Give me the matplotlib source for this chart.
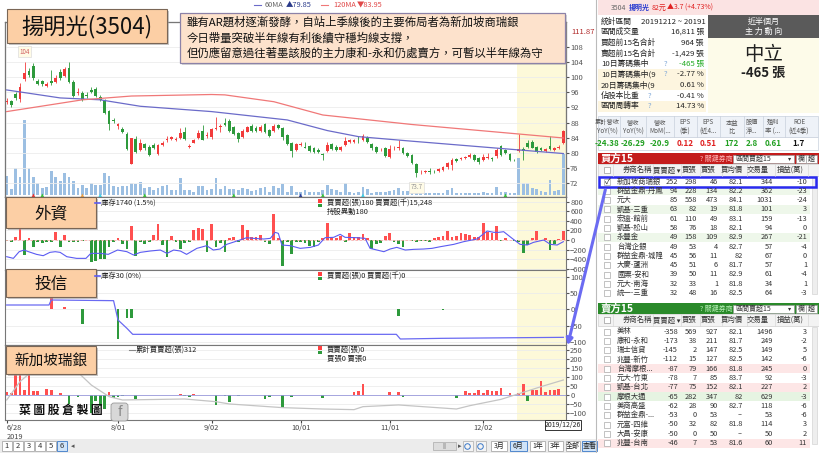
import matplotlib
matplotlib.use('Agg')
import matplotlib.pyplot as plt
from matplotlib.patches import Rectangle, FancyBboxPatch
import numpy as np

plt.rcParams['font.family'] = ['Noto Sans CJK TC', 'DejaVu Sans']

W, H = 820, 453

# ---- daily candles (6/28 ~ 12/26) ----
opens = [93.3, 93.6, 95.6, 94.2, 99.5, 101.6, 103.0, 99.0, 99.0, 97.7, 99.0, 98.7, 101.4, 100.3, 102.3, 98.8,
         95.8, 95.7, 95.2, 96.6, 96.8, 94.7, 94.0, 91.0, 88.8, 87.1, 86.2, 85.0, 77.1, 83.7, 80.8, 82.3,
         81.7, 82.2, 79.7, 82.1, 83.4, 83.8, 83.5, 84.0, 85.6, 81.6, 82.7, 84.0, 85.7, 84.6, 84.1, 86.3,
         86.8, 87.8, 88.5, 86.9, 85.3, 84.2, 85.6, 87.1, 86.6, 85.9, 87.6, 86.0, 85.9, 87.4, 86.5, 84.7,
         82.6, 80.8, 82.1, 81.7, 81.8, 81.2, 80.9, 79.8, 80.5, 82.3, 81.7, 80.8, 82.1, 82.8, 83.0, 82.9,
         83.4, 84.0, 82.4, 81.5, 80.7, 81.2, 78.9, 81.2, 81.2, 81.3, 80.0, 79.5, 77.1, 74.9, 75.0, 75.3,
         75.3, 75.3, 75.6, 76.2, 76.8, 78.4, 78.5, 78.8, 78.9, 79.4, 78.7, 78.2, 78.6, 78.6, 79.1, 81.9,
         80.7, 79.6, 78.2, 80.4, 81.1, 82.7, 82.8, 81.5, 81.2, 80.4, 81.9, 80.7, 81.2, 82.6]
closes = [93.6, 92.6, 94.5, 97.4, 101.0, 100.5, 99.7, 98.2, 98.2, 98.1, 98.3, 99.8, 99.7, 102.0, 98.8, 95.0,
          96.1, 94.0, 95.0, 96.0, 95.0, 94.0, 90.6, 87.6, 88.5, 87.5, 85.6, 81.0, 83.9, 80.2, 82.6, 81.2,
          79.5, 81.4, 82.0, 82.7, 83.6, 84.1, 83.6, 85.3, 83.8, 81.9, 83.4, 85.3, 83.5, 84.8, 86.2, 86.7,
          87.1, 87.3, 85.9, 85.0, 83.7, 85.9, 86.8, 85.9, 85.9, 86.8, 85.6, 84.6, 87.2, 86.6, 84.3, 82.3,
          80.6, 82.3, 82.4, 81.4, 80.4, 80.3, 80.3, 79.5, 82.1, 81.1, 80.8, 81.6, 83.2, 83.3, 83.3, 82.8,
          84.5, 83.0, 81.2, 80.3, 80.9, 79.3, 81.0, 81.4, 81.6, 79.9, 79.2, 77.3, 74.7, 75.1, 75.1, 74.9,
          75.2, 75.8, 76.3, 77.3, 78.2, 77.9, 78.7, 79.0, 79.4, 78.2, 77.5, 78.9, 78.9, 78.4, 80.8, 79.4,
          80.0, 78.2, 78.1, 81.0, 80.5, 81.5, 81.4, 80.3, 80.8, 81.0, 81.0, 81.2, 81.6, 85.8]
highs = [94.5, 94.0, 96.0, 98.5, 104.0, 102.5, 103.8, 99.5, 99.3, 98.6, 101.8, 100.5, 102.0, 102.7, 104.0, 99.2,
         97.0, 96.2, 96.0, 97.5, 97.5, 95.2, 94.3, 91.3, 89.3, 88.0, 86.8, 85.5, 84.0, 84.5, 83.6, 82.6,
         82.0, 82.5, 82.3, 83.2, 84.5, 84.6, 84.2, 86.5, 86.8, 82.3, 83.8, 86.0, 87.3, 85.5, 86.5, 89.6,
         87.5, 89.2, 89.0, 87.2, 85.6, 86.3, 87.2, 87.6, 87.0, 87.3, 88.0, 86.4, 87.5, 87.7, 86.8, 85.0,
         83.0, 82.6, 82.8, 83.0, 82.1, 81.5, 81.2, 80.0, 83.0, 82.6, 82.0, 81.9, 84.2, 83.6, 83.8, 84.5,
         85.0, 84.4, 82.7, 81.8, 81.2, 81.5, 82.0, 81.8, 83.4, 81.6, 80.3, 79.8, 77.4, 75.6, 75.5, 76.0,
         75.6, 76.1, 76.6, 77.7, 78.6, 78.7, 79.0, 79.3, 79.9, 79.7, 79.0, 79.6, 79.9, 78.9, 81.2, 82.2,
         81.0, 79.9, 78.5, 85.0, 81.5, 83.3, 83.4, 81.8, 81.5, 81.4, 84.5, 81.5, 82.0, 86.0]
lows = [92.8, 92.2, 94.0, 93.5, 99.0, 100.0, 99.3, 97.8, 97.6, 97.5, 97.8, 98.5, 99.3, 100.0, 98.5, 94.8,
        95.3, 93.8, 94.5, 95.7, 94.8, 93.7, 90.3, 86.0, 88.0, 86.2, 85.3, 80.8, 77.0, 80.0, 80.5, 80.8,
        79.2, 81.0, 79.4, 81.8, 83.0, 83.5, 83.2, 83.8, 83.5, 81.2, 82.5, 83.8, 83.3, 84.0, 83.8, 86.0,
        85.5, 87.0, 85.6, 84.7, 82.8, 84.0, 85.4, 85.6, 85.6, 85.6, 85.2, 84.2, 85.5, 86.3, 83.5, 82.0,
        79.0, 80.5, 81.8, 81.2, 80.2, 80.0, 80.0, 78.2, 80.2, 80.8, 80.5, 80.5, 81.9, 82.5, 82.6, 82.5,
        83.2, 82.7, 80.8, 80.0, 80.4, 79.0, 78.6, 80.8, 80.9, 79.6, 79.0, 77.0, 73.7, 74.5, 74.6, 74.5,
        74.8, 75.0, 75.3, 75.8, 75.6, 77.6, 78.2, 78.5, 78.6, 78.0, 77.2, 77.9, 78.3, 78.0, 78.8, 79.1,
        79.7, 78.0, 77.8, 80.2, 78.2, 81.2, 81.2, 80.0, 80.5, 80.2, 80.8, 80.4, 81.0, 82.4]
volume = [2200, 700, 3100, 2100, 8600, 3100, 2100, 1400, 800, 900, 2800, 2100, 1600, 2500, 2100, 1600,
          800, 1150, 800, 1400, 1150, 1150, 2500, 2200, 1050, 900, 1050, 1050, 1400, 1250, 1500, 800,
          900, 600, 800, 1050, 1150, 600, 600, 1950, 600, 600, 350, 1050, 1050, 600, 700, 1950,
          700, 1050, 700, 700, 600, 800, 700, 450, 600, 800, 900, 350, 1050, 800, 1250, 350,
          1050, 350, 350, 600, 350, 350, 350, 600, 1150, 700, 600, 350, 1400, 350, 250, 350,
          900, 700, 250, 350, 350, 350, 450, 600, 800, 450, 450, 350, 800, 350, 250, 250,
          250, 250, 250, 600, 800, 250, 250, 250, 250, 250, 250, 350, 250, 250, 900, 350,
          350, 250, 250, 4250, 1400, 1400, 800, 700, 450, 350, 1700, 450, 600, 4700]

# moving averages read at a few points (day index, price)
ma60_day = [0, 12, 21, 30, 46, 63, 72, 79, 91, 115, 125]
ma60_val = [96.6, 94.5, 94.0, 92.3, 90.9, 88.7, 85.9, 84.3, 83.1, 80.8, 79.85]
ma120_day = [0, 17, 28, 46, 49, 60, 71, 91, 125]
ma120_val = [90.9, 94.0, 95.0, 95.4, 95.3, 93.5, 90.0, 87.5, 83.95]

# signal triangles under the volume bars
sig_day = [6, 8, 17, 21, 31, 51, 66, 71, 80, 112]
sig_color = ['#e83030', '#36c236', '#f0a040', '#40d0e8', '#36c236', '#36c236', '#2a3f9a', '#36c236',
             '#40d0e8', '#36c236']

# ---- foreign investors (外資) net buy, 張 ----
foreign_net = [-20, -35, 70, 320, -320, 35, -140, -35, -70, -35, -50, 160, -140, 110, -50, -35,
               -35, -15, 0, -465, -430, -390, -400, -140, -35, 35, -90, -180, 300, -335, -35, -90,
               -35, 110, 335, -110, -360, 90, -50, -180, -70, -50, 215, 250, 235, -250, 335, -140,
               -70, -250, 35, 70, -35, 310, 215, 70, 70, 110, -35, -90, 535, 35, -535, -35,
               -285, -35, -35, -70, -120, -140, -35, 35, 360, 35, 35, 90, -35, 145, 55, 70,
               120, 35, -180, -90, -70, 90, 145, -35, -90, -140, 0, -15, -35, -15, -15, -35,
               35, 55, 90, 190, 55, 90, 145, 120, 110, 70, 70, 360, 160, 145, 290, -15,
               35, 0, -15, -35, -265, -110, 35, 180, 0, 50, -215, -90, 20, 180]
foreign_hold_day = [0, 1.5, 2.8, 3.9, 4.9, 6.7, 8.2, 9.7, 10.9, 12, 13.5, 15.7, 17.8, 18.9, 21, 22.8,
                    24.9, 27, 28.5, 30, 32.2, 34.5, 36, 37.5, 39, 40.4, 42.7, 44.9, 46.4, 47.9, 49.4,
                    51.7, 53.9, 55.4, 57.7, 59.2, 60.3, 61, 61.8, 63.7, 65.9, 68.2, 70, 71.5, 73.4,
                    74.9, 76, 78.6, 80.5, 81.6, 84.7, 86.1, 87.6, 89.5, 91.4, 93.6, 95.5, 97.4, 100.4,
                    102.6, 105.6, 107.9, 109.4, 110.5, 111.6, 113.5, 115.3, 116.9, 118.3, 120.6, 122.1,
                    123.6, 125]
foreign_hold = [840, 740, 1140, 1240, 1140, 980, 900, 1100, 1140, 1100, 840, 740, 740, 1040, 1040, 980,
                1240, 1140, 940, 1100, 1180, 1240, 1040, 1240, 1180, 980, 1340, 1500, 1240, 1300, 1580,
                1780, 1980, 1940, 1900, 1940, 2300, 2240, 1540, 1500, 1340, 1400, 1540, 1980, 2000,
                2180, 2000, 1980, 1940, 1340, 1140, 1300, 1400, 1240, 1280, 1300, 1340, 1440, 1580,
                1740, 1900, 2380, 2300, 2300, 2340, 1940, 1580, 1540, 1700, 1840, 1580, 1540, 1740]

# ---- investment trust (投信) ----
trust_day = [10, 13, 17, 25, 27, 28, 88, 98, 99]
trust_net = [40, 8, -43, -90, -27, -25, -20, -2, 2]
trust_hold_day = [0, 9.5, 10, 24, 25, 27, 28.3, 87.5, 88.4, 97.8, 125]
trust_hold = [321, 321, 366, 360, 186, 111, 57, 57, 15, 21, 30]

# ---- 新加坡瑞銀 daily net, 張 ----
ubs_net = [15, 10, 110, 115, 28, 120, 18, 22, 0, 33, 25, 0, 9, 0, -52, 0,
           -15, 0, 0, -104, -38, -66, -80, 13, -19, -15, -9, 0, 0, -22, 0, 0,
           0, 0, 0, 0, 0, 0, 0, 4, -9, -15, 4, 0, 0, 0, 0, -60,
           0, -9, -42, 0, -9, 0, 0, 0, 0, 0, -22, -13, 0, 0, -72, 0,
           -13, 0, 0, 0, 0, 0, 0, -19, 0, 0, 0, 0, 0, 0, 15, 19,
           57, 0, 0, 0, 0, 0, 13, 0, 15, -13, 0, 0, 0, 0, 0, 0,
           0, 0, 0, 0, 0, -19, 0, 19, 9, 9, 26, 9, 28, 22, 22, 38,
           0, 9, 0, 9, 57, -34, 28, 28, 75, 15, 28, 28, 32, 0]
ubs_cum_day = [0, 3, 6, 10, 13, 16, 19, 23, 26, 40, 47, 50, 62, 71, 78, 80, 88, 101, 104, 111, 116, 120, 125]
ubs_cum = [30, 290, 453, 524, 500, 420, 241, 77, 30, 44, 6, -26, -78, -97, -106, -64, -40, -97, -50, 39,
           138, 218, 312]

tick_days = [0, 25, 46, 66, 86, 107]
tick_labels = ['6/28\n2019', '8/01', '9/02', '10/01', '11/01', '12/02']
band_days = (115, 125)

# ---- right side tables ----
stat_labels = ['統計區間', '區間成交量', '買超前15名合計', '賣超前15名合計', '10日籌碼集中',
               '10日籌碼集中(9', '20日籌碼集中(9', '佔股本比重', '區間周轉率']
stat_values = ['20191212 ~ 20191', '16,811 張', '964 張', '-1,429 張', '-465 張', '-2.77 %', '0.61 %',
               '-0.41 %', '14.73 %']
fin_headers = ['累計營收\nYoY(%)', '營收\nYoY(%)', '營收\nMoM(...', 'EPS\n(季)', 'EPS\n(近4...',
               '本益\n比', '股價\n淨...', '殖利\n率 (...', 'ROE\n(近4季)']
fin_values = ['-24.38', '-26.29', '-20.9', '0.12', '0.51', '172', '2.8', '0.61', '1.7']

buy_names = ['新加坡商瑞銀', '群益金鼎-丹鳳', '元大', '凱基-三重', '宏遠-館前', '凱基-松山', '永豐金',
             '台灣企銀', '群益金鼎-城隍', '大慶-蘆洲', '國票-安和', '元大-南海', '統一-三重']
buy_net = [252, 94, 85, 63, 61, 58, 49, 49, 45, 45, 39, 32, 32]
buy_b = [298, 228, 558, 82, 110, 76, 158, 53, 56, 51, 50, 33, 48]
buy_s = [46, 134, 473, 19, 49, 18, 109, 4, 11, 6, 11, 1, 16]
buy_avg = ['82.1', '82.2', '84.1', '81.8', '83.1', '82.1', '82.9', '82.7', '82', '81.7', '82.9', '81.8', '82.5']
buy_vol = [344, 362, 1031, 101, 159, 94, 267, 57, 67, 57, 61, 34, 64]
buy_pnl = [-10, -23, -24, 3, -13, 0, -21, -4, 0, 1, -4, 1, -3]

sell_names = ['美林', '康和-永和', '瑞士信貸', '兆豐-新竹', '台灣摩根...', '元大-竹東', '凱基-台北',
              '摩根大通', '美商高盛', '群益金鼎-...', '元富-四維', '大昌-安康', '兆豐-台南']
sell_net = [-358, -173, -145, -112, -87, -78, -77, -65, -62, -53, -50, -50, -46]
sell_b = [569, 38, 2, 15, 79, 7, 75, 282, 28, 0, 32, 0, 7]
sell_s = [927, 211, 147, 127, 166, 85, 152, 347, 90, 53, 82, 50, 53]
sell_avg = ['82.1', '81.7', '82.5', '82.5', '81.8', '83.7', '82.1', '82', '82.7', '--', '81.8', '--', '81.6']
sell_vol = [1496, 249, 149, 142, 245, 92, 227, 629, 118, 53, 114, 50, 60]
sell_pnl = [3, -2, 5, -6, 0, -3, 2, -3, -6, -6, 3, 2, 11]

RED = '#f23b3b'
GREEN = '#2e9a3c'
BAND = '#fdf9d9'

fig = plt.figure(figsize=(8.2, 4.53), dpi=100)


def px_axes(x0, y0, x1, y1, **kw):
    return fig.add_axes([x0 / W, 1 - y1 / H, (x1 - x0) / W, (y1 - y0) / H], **kw)


def style_panel(ax, ticks):
    ax.set_xlim(-0.38, 125.6)
    ax.yaxis.tick_right()
    ax.set_yticks(ticks)
    ax.tick_params(axis='y', labelsize=5.5, colors='#555555', length=2, pad=1)
    ax.tick_params(axis='x', length=0, labelbottom=False)
    ax.grid(axis='y', color='#ececec', lw=0.6)
    ax.set_axisbelow(True)
    for s in ax.spines.values():
        s.set_color('#777777')
        s.set_linewidth(0.8)


def twin(ax, lo, hi):
    t = ax.twinx()
    t.set_ylim(lo, hi)
    t.set_axis_off()
    ax.yaxis.tick_right()
    return t


days = np.arange(len(closes))
o = np.array(opens)
c = np.array(closes)
cc = np.where(c >= o, RED, GREEN)

# price panel: volume underneath
axv = px_axes(5, 22, 566, 197)
axv.set_xlim(-0.38, 125.6)
axv.set_ylim(-230, 19900)
axv.axvspan(band_days[0] - 0.5, band_days[1] + 0.5, color=BAND, zorder=0, lw=0)
axv.bar(days, volume, width=0.62, color='#9cbfe2', lw=0)
axv.scatter(sig_day, [-60] * len(sig_day), marker='^', s=9, c=sig_color, zorder=3, lw=0)
axv.set_xticks([])
axv.set_yticks([])

ax1 = px_axes(5, 22, 566, 197)
ax1.patch.set_alpha(0)
style_panel(ax1, list(range(72, 109, 4)))
ax1.set_ylim(68.4, 114.5)
ax1.vlines(days, lows, highs, colors=cc, lw=0.6)
ax1.bar(days, np.maximum(np.abs(c - o), 0.12), bottom=np.minimum(o, c), width=0.62, color=cc, lw=0)
ax1.plot(ma60_day, ma60_val, color='#6b6bc9', lw=0.9)
ax1.plot(ma120_day, ma120_val, color='#f07878', lw=0.9)
ax1.annotate('111.87', xy=(1.0, 111.87), xycoords=('axes fraction', 'data'), xytext=(4, 0),
             textcoords='offset points', fontsize=5.5, color='#b02828', va='center', annotation_clip=False)
hi_i = int(np.argmax(highs))
lo_i = int(np.argmin(lows))
ax1.annotate(f'{highs[hi_i]:g}', xy=(hi_i, highs[hi_i]), xytext=(0, 6), textcoords='offset points',
             ha='center', fontsize=4.5, color='#d06060',
             bbox=dict(boxstyle='square,pad=0.25', fc='#fffbe6', ec='#dddddd', lw=0.5))
ax1.annotate(f'{lows[lo_i]:g}', xy=(lo_i, lows[lo_i]), xytext=(0, -9), textcoords='offset points',
             ha='center', fontsize=4.5, color='#999999',
             bbox=dict(boxstyle='square,pad=0.25', fc='#fffbe6', ec='#dddddd', lw=0.5))

# 外資
ax2 = px_axes(5, 197, 566, 270)
style_panel(ax2, [800, 600, 400, 200, 0, -200, -400, -600])
ax2.set_ylim(-627, 898)
ax2.axvspan(band_days[0] - 0.5, band_days[1] + 0.5, color=BAND, zorder=0, lw=0)
fn = np.array(foreign_net)
ax2.bar(days, fn, width=0.62, color=np.where(fn >= 0, '#ff5050', GREEN), lw=0)
ax2.axhline(0, color='#ffb0b0', lw=0.6, ls=(0, (3, 2)))
ax2h = twin(ax2, 42, 4420)
ax2h.plot(foreign_hold_day, foreign_hold, color='#5b5bf2', lw=0.8)

# 投信
ax3 = px_axes(5, 270, 566, 345)
style_panel(ax3, [100, 50, 0, -50, -100])
ax3.set_ylim(-108, 120)
ax3.axvspan(band_days[0] - 0.5, band_days[1] + 0.5, color=BAND, zorder=0, lw=0)
tn = np.array(trust_net)
ax3.bar(trust_day, tn, width=0.62, color=np.where(tn >= 0, '#ff5050', GREEN), lw=0)
ax3h = twin(ax3, -39, 636)
ax3h.plot(trust_hold_day, trust_hold, color='#6a6af2', lw=0.9)

# 新加坡瑞銀
ax4 = px_axes(5, 345, 566, 420)
style_panel(ax4, [250, 200, 150, 100, 50, 0, -50, -100])
ax4.set_ylim(-142, 278)
ax4.axvspan(band_days[0] - 0.5, band_days[1] + 0.5, color=BAND, zorder=0, lw=0)
un = np.array(ubs_net)
ax4.bar(days, un, width=0.62, color=np.where(un >= 0, '#ff5050', GREEN), lw=0)
ax4.axhline(0, color='#9999dd', lw=0.6)
ax4c = twin(ax4, -252, 805)
ax4c.plot(ubs_cum_day, ubs_cum, color='#c4c4c4', lw=0.9)
ax4.set_xticks(tick_days)
ax4.set_xticklabels(tick_labels, linespacing=1.1)
ax4.tick_params(axis='x', labelbottom=True, labelsize=5.3, colors='#444444', length=2, pad=1)
ax4.get_xticklabels()[0].set_ha('left')

# ---- overlay for boxes, legends and the right side panel (pixel coordinates) ----
ov = fig.add_axes([0, 0, 1, 1], zorder=20)
ov.set_xlim(0, W)
ov.set_ylim(H, 0)
ov.axis('off')


def rect(x0, y0, x1, y1, fc, ec='none', lw=0.6, **kw):
    ov.add_patch(Rectangle((x0, y0), x1 - x0, y1 - y0, fc=fc, ec=ec, lw=lw, **kw))


def label_box(x0, y0, x1, y1, text, fs):
    rect(x0 + 2, y0 + 2, x1 + 2, y1 + 2, '#9a9a9a', alpha=0.55)
    rect(x0, y0, x1, y1, '#fccfa5', '#7a6656', 0.8)
    ov.text((x0 + x1) / 2, (y0 + y1) / 2 + 1, text, fontsize=fs, ha='center', va='center', color='#111111')


label_box(7, 9, 167, 43, '揚明光(3504)', 16)
rect(182, 15, 567, 65, '#9a9a9a', alpha=0.4)
rect(180, 13, 565, 63, '#fde2cc', '#8c82a8', 0.9)
notes = ['雖有AR題材逐漸發酵，自站上季線後的主要佈局者為新加坡商瑞銀',
         '今日帶量突破半年線有利後續守穩均線支撐，',
         '但仍應留意過往著墨該股的主力康和-永和仍處賣方，可暫以半年線為守']
for k, line in enumerate(notes):
    ov.text(187, 22 + 15.5 * k, line, fontsize=8.2, va='center', color='#111111')

# MA legend
ov.plot([254, 261], [5, 5], color='#6b6bc9', lw=0.8)
ov.text(265, 5, '60MA', fontsize=5.3, color='#666666', va='center')
ov.text(286, 5, '▲79.85', fontsize=5.3, color='#2a3a8a', va='center')
ov.plot([321, 328], [5, 5], color='#f07878', lw=0.8)
ov.text(333, 5, '120MA', fontsize=5.3, color='#e04848', va='center')
ov.text(357, 5, '▼83.95', fontsize=5.3, color='#e04848', va='center')

label_box(6, 197, 96, 228, '外資', 12)
label_box(6, 269, 96, 297, '投信', 12)
label_box(6, 346, 96, 374, '新加坡瑞銀', 10.5)


def flow_legend(y, line1, line2=None):
    rect(318, y - 4, 322, y - 0.5, '#ff4040')
    rect(318, y + 0.5, 322, y + 4, GREEN)
    ov.text(327, y, line1, fontsize=5.3, va='center', color='#222222')
    if line2:
        ov.text(327, y + 8.5, line2, fontsize=5.3, va='center', color='#222222')


ov.plot([95, 100], [203, 203], color='#5b5bf2', lw=1.2)
ov.text(101, 203, '庫存1740 (1.5%)', fontsize=5.3, va='center', color='#222222')
flow_legend(203, '買賣超(張)180 買賣超(千)15,248', '持股異動180')
ov.plot([95, 100], [276, 276], color='#5b5bf2', lw=1.2)
ov.text(101, 276, '庫存30 (0%)', fontsize=5.3, va='center', color='#222222')
flow_legend(276, '買賣超(張)0 買賣超(千)0')
ov.plot([129, 135], [350, 350], color='#888888', lw=0.8)
ov.text(136, 350, '累計買賣超(張)312', fontsize=5.3, va='center', color='#222222')
flow_legend(350, '買賣超(張)0', '買張0 賣張0')

# watermark
ov.text(19, 410, '菜 圖 股 倉 製 圖', fontsize=8.5, fontweight='bold', va='center', color='#111111')
ov.add_patch(FancyBboxPatch((111, 403), 17, 18, boxstyle='round,pad=0,rounding_size=3',
                            fc='#d8d8d8', ec='#999999', lw=0.6))
ov.text(119.5, 412, 'f', fontsize=10, ha='center', va='center', color='#888888')

# date box
rect(545, 420, 581, 430, 'white', '#333333', 0.7)
ov.text(563, 425, '2019/12/26', fontsize=5, ha='center', va='center', color='#222222')

# bottom toolbar
rect(0, 439, 597, 453, '#ececec')
for k, s in enumerate(['1', '2', '3', '4', '5', '6']):
    on = s == '6'
    rect(2 + 11 * k, 441, 12 + 11 * k, 451, '#cfe3f8' if on else 'white', '#3a78c8' if on else '#aaaaaa', 0.6)
    ov.text(7 + 11 * k, 446, s, fontsize=5.5, ha='center', va='center', color='#333333')
ov.text(71, 446, '◂', fontsize=5, va='center', color='#555555')
rect(433, 442, 456, 450, '#dddddd', '#aaaaaa', 0.5)
ov.text(444.5, 446, '|||', fontsize=4, ha='center', va='center', color='#777777')
ov.text(458, 446, '▸', fontsize=5, va='center', color='#555555')
for xx in (468, 481):
    rect(xx - 5, 441, xx + 5, 451, '#f4f4f4', '#aaaaaa', 0.5)
    ov.plot(xx - 0.5, 445.5, marker='o', ms=4, mfc='none', mec='#3a78c8', mew=0.7)
for x0, x1, s, on in [(491, 507, '3月', False), (510, 527, '6月', True), (530, 545, '1年', False),
                      (548, 563, '3年', False), (566, 580, '全部', False), (582, 597, '查看', True)]:
    rect(x0, 441, x1, 451, '#cfe3f8' if on else 'white', '#3a78c8' if on else '#aaaaaa', 0.6)
    ov.text((x0 + x1) / 2, 446, s, fontsize=5, ha='center', va='center', color='#222222')

# ---- right panel ----
ov.plot([596.5, 596.5], [0, 453], color='#bbbbbb', lw=0.8)
rect(598, 0, 820, 15, '#fbe3e3')
ov.text(611, 7.5, '3504', fontsize=5, va='center', color='#666666')
ov.text(629, 7.5, '揚明光', fontsize=5, va='center', color='#2a3ad0', fontweight='bold')
ov.text(652, 7.5, '82元', fontsize=5, va='center', color='#e02020')
ov.text(667, 7.5, '▲3.7 (+4.73%)', fontsize=5, va='center', color='#e02020')

for k, (lab, val) in enumerate(zip(stat_labels, stat_values)):
    y = 21.5 + 10.6 * k
    if k in (5, 6, 8):
        rect(598, y - 5.3, 706, y + 5.3, '#fdf5df')
    ov.text(601, y, lab, fontsize=5.6, va='center', color='#222222')
    if k == 0:
        ov.text(641, y, val, fontsize=5.6, va='center', color='#222222')
    else:
        ov.text(704, y, val, fontsize=5.6, va='center', ha='right',
                color='#22aa22' if k == 4 else '#222222')
    if k in (4, 5):
        ov.text(664, y, '?', fontsize=5.5, va='center', color='#7fa8d8')
    if k in (7, 8):
        ov.text(648, y, '?', fontsize=5.5, va='center', color='#7fa8d8')
rect(708, 15, 819, 38, '#5a5a5a')
ov.text(763.5, 21, '近半個月', fontsize=5.8, ha='center', va='center', color='white')
ov.text(763.5, 31, '主 力 動 向', fontsize=5.8, ha='center', va='center', color='white')
rect(708, 38, 819, 113, '#fdfbe9')
ov.text(763.5, 55, '中立', fontsize=14, ha='center', va='center', color='#222222')
ov.text(763.5, 73, '-465 張', fontsize=9.5, ha='center', va='center', color='#222222', fontweight='bold')

# financial table
fin_x = [607, 633, 660, 685, 708, 732, 752, 773, 799]
fin_sep = [620, 646, 674, 697, 720, 744, 763, 785]
fin_col = ['#22a022', '#22a022', '#22a022', '#e02020', '#e02020', '#22a022', '#22a022', '#22a022', '#111111']
rect(598, 116, 818, 137, '#eef2f8', '#c8d0dc', 0.5)
rect(598, 137, 818, 150, 'white', '#c8d0dc', 0.5)
for xs in fin_sep:
    ov.plot([xs, xs], [116, 137], color='#c8d0dc', lw=0.5)
for xx, hd, val, col in zip(fin_x, fin_headers, fin_values, fin_col):
    ov.text(xx, 126.5, hd, fontsize=4.5, ha='center', va='center', color='#555555', linespacing=1.2)
    ov.text(xx, 143.5, val, fontsize=5.8, ha='center', va='center', color=col, fontweight='bold')

# broker tables
col_hdr_x = [637, 667, 689, 708, 732, 758, 790]
col_hdr = ['券商名稱', '買賣超 ▾', '買張', '賣張', '買均價', '交易量', '損益(萬)']
col_sep = [613, 653, 681, 700, 722, 747, 775, 808]
num_right = [678, 697, 718, 743, 773, 807]


def broker_table(top, title, bar_col, hint_col, drop, names, cols, row_bg):
    rect(598, top, 819, top + 11, bar_col)
    ov.text(601, top + 5.5, title, fontsize=7.5, va='center', color='white', fontweight='bold')
    ov.text(700, top + 5.5, '? 關鍵券商', fontsize=5, va='center', color=hint_col)
    rect(733, top + 1.5, 794, top + 9.5, 'white', '#999999', 0.5)
    ov.text(736, top + 5.5, drop, fontsize=5, va='center', color='#333333')
    ov.text(788, top + 5.5, '▾', fontsize=4.5, va='center', color='#333333')
    for x0, s in [(796, '欄'), (806, '趨')]:
        rect(x0, top + 1.5, x0 + 11, top + 9.5, 'white', '#999999', 0.5)
        ov.text(x0 + 5.5, top + 5.5, s, fontsize=5, ha='center', va='center', color='#333333')
    hy = top + 11
    rect(598, hy, 819, hy + 12, '#f3f3f3', '#d0d0d0', 0.5)
    for xs in col_sep:
        ov.plot([xs, xs], [hy, hy + 12], color='#d8d8d8', lw=0.5)
    rect(604.5, hy + 3, 610.5, hy + 9, 'white', '#999999', 0.5)
    for xx, s in zip(col_hdr_x, col_hdr):
        ov.text(xx, hy + 6, s, fontsize=5.3, ha='center', va='center', color='#333333')
    for r, name in enumerate(names):
        y = hy + 17.5 + 9.3 * r
        if row_bg.get(r):
            rect(598, y - 4.6, 810, y + 4.6, row_bg[r])
        rect(604.5, y - 3, 610.5, y + 3, 'white', '#aaaaaa', 0.5)
        ov.text(617, y, name, fontsize=5.3, va='center', color='#333333')
        for xr, vals in zip(num_right, cols):
            ov.text(xr, y, str(vals[r]), fontsize=5.3, va='center', ha='right', color='#333333')
    rect(812, hy + 13, 817, hy + 130, '#eeeeee', '#cccccc', 0.4)


broker_table(153, '買方15', '#c41c1c', '#ffb8b8', '區間買超15', buy_names,
             [buy_net, buy_b, buy_s, buy_avg, buy_vol, buy_pnl],
             {1: '#eef7ea', 3: '#eef7ea', 6: '#eef7ea'})
broker_table(303, '賣方15', '#2a8a2a', '#b8f0b8', '區間賣超15', sell_names,
             [sell_net, sell_b, sell_s, sell_avg, sell_vol, sell_pnl],
             {4: '#fde6e6', 6: '#fde6e6', 7: '#e6f4e2', 12: '#fde6e6'})
ov.text(607.5, 181.5, '✓', fontsize=6, ha='center', va='center', color='#222222')
rect(599, 176.5, 816, 186.5, 'none', '#2a2af0', 1.8)
ov.annotate('', xy=(567, 348), xytext=(606, 187),
            arrowprops=dict(arrowstyle='-|>', color='#6b6bf2', lw=2.2, mutation_scale=9))

fig.savefig('out.png', dpi=100)
